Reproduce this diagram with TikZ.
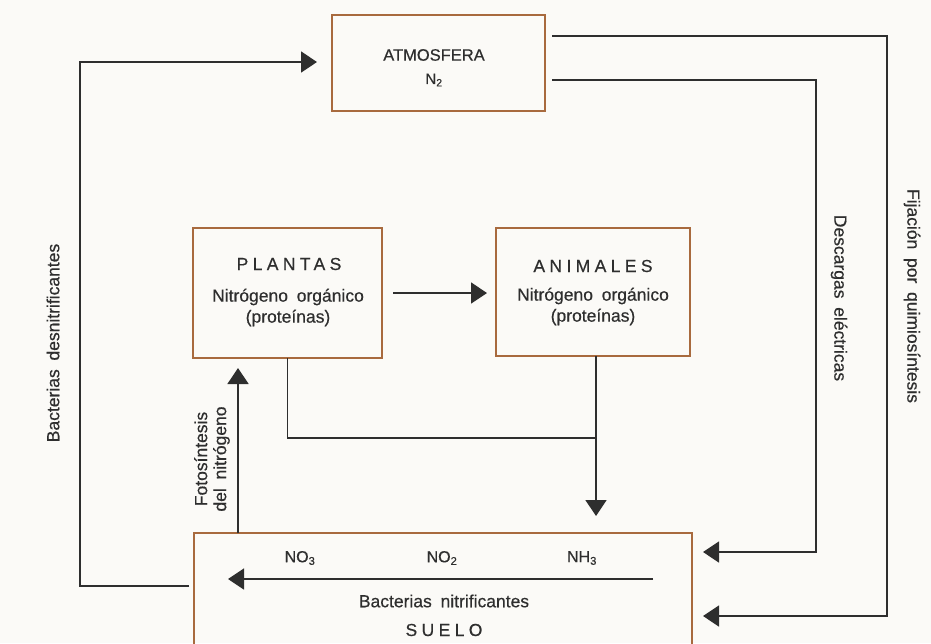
\documentclass[tikz,border=0pt]{standalone}
\usepackage{fontspec}
\setmainfont{Liberation Sans}[WordSpace=1.8, FakeBold=0.5]
\usetikzlibrary{arrows.meta}
\definecolor{ink}{HTML}{2E2E2E}
\definecolor{boxline}{HTML}{A86A3E}
\definecolor{paper}{HTML}{FBFAF7}
\newcommand{\spacedcaps}[1]{{\addfontfeature{LetterSpace=25}#1}}
\begin{document}
\begin{tikzpicture}[x=1pt,y=-1pt,
  cbox/.style={draw=boxline, line width=2.3pt, rectangle, inner sep=0pt, outer sep=0pt},
  lbl/.style={text=ink, inner sep=0pt, font=\fontsize{17.5}{20}\selectfont},
  chem/.style={lbl, font=\fontsize{16}{18}\selectfont},
  conn/.style={draw=ink, line width=1.5pt},
  arr/.style={conn, -{Triangle[length=16pt,width=21pt]}}]
  % page
  \fill[paper] (0,0) rectangle (931,643);
  \useasboundingbox (0,0) rectangle (931,643);

  % boxes
  \node[cbox, minimum width=213pt, minimum height=96pt] (atm) at (438.5,63) {};
  \node[cbox, minimum width=189pt, minimum height=130pt] (pla) at (287.5,293) {};
  \node[cbox, minimum width=194pt, minimum height=128pt] (ani) at (593,292) {};
  \node[cbox, minimum width=498pt, minimum height=134pt] (sue) at (443,600) {};

  % box texts
  \node[lbl, font=\fontsize{16.5}{19}\selectfont] (atmT) at (434,55) {ATMOSFERA};
  \node[lbl, font=\fontsize{15}{18}\selectfont] (atmN) at (434,80) {N\textsubscript{2}};

  \node[lbl] (plaT) at (289,264) {\spacedcaps{PLANTAS}};
  \node[lbl] (plaN) at (288,297) {Nitrógeno orgánico};
  \node[lbl] (plaP) at (288,318) {(proteínas)};

  \node[lbl] (aniT) at (593,266) {\spacedcaps{ANIMALES}};
  \node[lbl] (aniN) at (593,296) {Nitrógeno orgánico};
  \node[lbl] (aniP) at (593,317) {(proteínas)};

  \node[chem] (no3) at (300,558) {NO\textsubscript{3}};
  \node[chem] (no2) at (442,558) {NO\textsubscript{2}};
  \node[chem] (nh3) at (582,558) {NH\textsubscript{3}};
  \node[lbl] (bnit) at (444,601) {Bacterias nitrificantes};
  \node[lbl] (sueT) at (444,630) {\spacedcaps{SUELO}};

  % side labels
  \node[lbl, rotate=90] (bden) at (53,343) {Bacterias desnitrificantes};
  \node[lbl, rotate=90, align=center, font=\fontsize{17.5}{19}\selectfont] (foto) at (212,459) {Fotosíntesis\\del nitrógeno};
  \node[lbl, rotate=-90] (desc) at (839,298) {Descargas eléctricas};
  \node[lbl, rotate=-90] (fija) at (912,296) {Fijación por quimiosíntesis};

  % denitrification: soil back to atmosphere
  \draw[arr, shorten <=5pt, shorten >=15pt] (sue.west |- 0,586) -| (80,62) -- (atm.west |- 0,62);
  % fixation paths from atmosphere into soil
  \draw[arr, shorten <=7pt, shorten >=11pt] (atm.east |- 0,36) -- (887,36) |- (sue.east |- 0,616);
  \draw[arr, shorten <=7pt, shorten >=11pt] (atm.east |- 0,80) -- (816,80) |- (sue.east |- 0,552);
  % plants eaten by animals
  \draw[arr, shorten <=11pt, shorten >=9pt] (pla.east |- 0,293) -- (ani.west |- 0,293);
  % dead matter to soil
  \draw[conn] (pla.south) |- (596,438);
  \draw[arr, shorten >=17pt] (ani.south -| 596,0) -- (sue.north -| 596,0);
  % uptake by plants
  \draw[arr, shorten >=10pt] (sue.north -| 238,0) -- (pla.south -| 238,0);
  % nitrification inside the soil
  \coordinate (nitA) at (653,579);
  \coordinate (nitB) at (228,579);
  \draw[arr] (nitA) -- (nitB);
\end{tikzpicture}
\end{document}
